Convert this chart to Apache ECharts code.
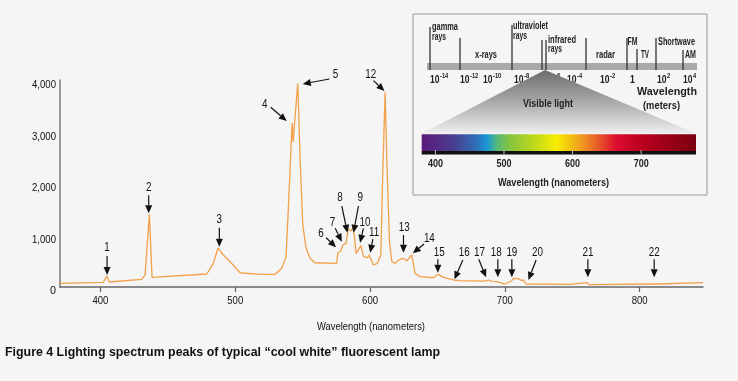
<!DOCTYPE html>
<html><head><meta charset="utf-8">
<script src="https://cdn.jsdelivr.net/npm/echarts@6/dist/echarts.min.js"></script>
<style>html,body{margin:0;padding:0;background:#f5f5f5}#c{width:738px;height:381px}</style>
</head><body><div id="c"></div>
<script>
// ---------- data ----------
const wavelengths = [370, 402.1, 404.7, 406.6, 430.6, 433.1, 436.3, 438.3, 478.9, 483.8, 487.3, 490.0, 496.2, 503.6, 518.4, 529.6, 534.5, 537.7, 539.4, 542.2, 542.9, 546.4, 548.1, 550.1, 552.6, 555.5, 559.2, 575.3, 576.1, 578.3, 579.8, 582.2, 583.7, 585.7, 587.7, 589.7, 593.2, 595.1, 598.1, 599.3, 602.5, 605.5, 608.0, 609.4, 611.2, 612.4, 614.4, 616.2, 618.6, 621.1, 624.3, 627.3, 631.0, 633.4, 637.2, 647.0, 650.7, 654.5, 661.9, 663.1, 666.8, 685.4, 687.8, 690.4, 694.1, 700.2, 705.2, 706.4, 710.1, 711.9, 713.8, 715.8, 748.5, 760.9, 762.8, 810.3, 811.6, 813.3, 847];
const intensities = [149, 169, 291, 175, 227, 311, 1489, 266, 330, 543, 840, 732, 569, 355, 324, 324, 440, 666, 1612, 3262, 2893, 4033, 2577, 1282, 829, 635, 549, 538, 743, 777, 893, 926, 1204, 1171, 1229, 732, 880, 666, 646, 699, 505, 538, 699, 2252, 3858, 2577, 957, 569, 538, 602, 635, 588, 699, 343, 278, 258, 324, 266, 214, 238, 200, 194, 214, 188, 181, 136, 200, 246, 238, 208, 214, 136, 130, 161, 123, 136, 161, 136, 161];
const xTickValues = [400, 500, 600, 700, 800];
const yTickValues = [0, 1000, 2000, 3000, 4000];

const peakLabels = ['1','2','3','4','5','6','7','8','9','10','11','12','13','14','15','16','17','18','19','20','21','22'];
const peakTipWavelength = [404.9, 435.8, 488.2, 538.2, 550.1, 574.8, 579.1, 583.2, 587.7, 592.6, 600.1, 610.7, 624.8, 631.7, 650.3, 662.6, 686.1, 694.8, 705.2, 717.5, 761.6, 810.8];
const peakTipIntensity = [311, 1509, 860, 3301, 4020, 848, 957, 1132, 1132, 938, 743, 3884, 743, 732, 355, 227, 266, 266, 266, 214, 266, 266];

// inset texts
const emBandLabels = [['gamma','rays'], ['x-rays'], ['ultraviolet','rays'], ['infrared','rays'], ['radar'], ['FM'], ['TV'], ['Shortwave'], ['AM']];
const emExponents = ['-14','-12','-10','-8','-6','-4','-2','','2','4'];
const visibleTicks = [400, 500, 600, 700];
const visibleRange = [380, 780];

// ---------- layout / style (pixels) ----------
const FONT = "'Liberation Sans', Arial, sans-serif";
const COND = 0.82;
const arrowLayout = [
 [0,-19,0,-8],[0,-18,0,-8],[0,-19,0,-8],[-16,-13.7,-6,-3],[26.6,-5,6,-4],
 [-10,-9.6,-5,-4.5],[-6.7,-13.4,-2.7,-5.5],[-5.6,-26.7,-1.7,-8],[5,-26.7,1.7,-8],[3.3,-14.4,1.7,-6],
 [2.7,-13.7,1.3,-6],[-11,-10.3,-2.7,-6],[0,-17.7,0.7,-7],[11.3,-9.3,5.3,-5],[0,-13.4,1.3,-7],
 [8.4,-19.3,1.3,-7.5],[-7.3,-18,0.6,-7],[0,-18,-1.7,-7],[0,-18,0,-7],[7.7,-20,1.3,-7.5],
 [0,-18,0,-7],[0,-18,0,-7]
];
const bandLabelPos = [[432,27,37],[475,55],[513,26,36],[548,40,49],[596,55],[627.5,42],[641,55],[658,42],[685,55]];
const bandLabelW = [[26,14],[22],[35,14],[28,14],[19],[10],[8],[37],[11]];
const dividerLines = [[430,27],[460,38],[512,25],[542,40],[546,40],[586,38],[627,38],[637,49],[656,38],[683,50]];
const exponentX = [430,460,483,514,545,567,600,630,657,683];

const mctx = document.createElement('canvas').getContext('2d');
function T(x, y, text, size, bold, align, targetW, z, fill) {
  const font = (bold ? 'bold ' : '') + size + 'px ' + FONT;
  mctx.font = font;
  const natural = mctx.measureText(text).width || 1;
  const sx = targetW ? targetW / natural : COND;
  return {type:'text', x:x, y:y, z:z || 10, scaleX:sx,
    style:{text:text, font:font, fill:fill || '#111', align:align || 'left', verticalAlign:'middle'}};
}

const chart = echarts.init(document.getElementById('c'), null, {renderer:'canvas'});
chart.setOption({
  backgroundColor: '#f5f5f5',
  animation: false,
  grid: {left: 60, right: 35, top: 80, bottom: 94},
  xAxis: {
    type: 'value', min: 370, max: 847,
    axisLine: {show: true, lineStyle: {color: '#666', width: 1.5}},
    axisTick: {show: true, length: 5, lineStyle: {color: '#666', width: 1.2}, customValues: xTickValues},
    axisLabel: {show: false},
    splitLine: {show: false}
  },
  yAxis: {
    type: 'value', min: 78, max: 4097,
    axisLine: {show: true, lineStyle: {color: '#777', width: 1.5}},
    axisTick: {show: false},
    axisLabel: {show: false},
    splitLine: {show: false}
  },
  series: [{
    type: 'line', symbol: 'none', clip: true,
    data: wavelengths.map((w, i) => [w, intensities[i]]),
    lineStyle: {color: '#f3a04a', width: 1.3}
  }]
});

const g = [];
// tick labels through the axes' scales
xTickValues.forEach(v => {
  const p = chart.convertToPixel({gridIndex: 0}, [v, 78]);
  g.push(T(p[0], p[1] + 14, String(v), 11, false, 'center', 16));
});
yTickValues.forEach(v => {
  const p = chart.convertToPixel({gridIndex: 0}, [370, v]);
  const s = v.toLocaleString('en-US');
  g.push(T(p[0] - 4, p[1], s, 11, false, 'right', s.length === 1 ? 6 : 24));
});
g.push(T(371, 327, 'Wavelength (nanometers)', 11, false, 'center', 108));
g.push(T(5, 352, 'Figure 4 Lighting spectrum peaks of typical \u201ccool white\u201d fluorescent lamp', 13, true, 'left', 435));

// peak annotations
peakLabels.forEach((lab, i) => {
  const tip = chart.convertToPixel({gridIndex: 0}, [peakTipWavelength[i], peakTipIntensity[i]]);
  const [dx, dy, lx, ly] = arrowLayout[i];
  const tail = [tip[0] + dx, tip[1] + dy];
  const len = Math.hypot(dx, dy);
  const ux = dx / len, uy = dy / len;
  const headLen = 8, hw = 3.5;
  const base = [tip[0] + ux * headLen, tip[1] + uy * headLen];
  g.push({type:'line', z:10, shape:{x1:tail[0], y1:tail[1], x2:base[0], y2:base[1]}, style:{stroke:'#111', lineWidth:1.2}});
  g.push({type:'polygon', z:10, shape:{points:[tip, [base[0] - uy*hw, base[1] + ux*hw], [base[0] + uy*hw, base[1] - ux*hw]]}, style:{fill:'#111'}});
  g.push(T(tail[0] + lx, tail[1] + ly, lab, 12, false, 'center', null, 10));
});

// inset
g.push({type:'rect', z:20, shape:{x:413, y:14, width:294, height:181}, style:{fill:'#f5f5f5', stroke:'#999', lineWidth:1}});
g.push({type:'rect', z:21, shape:{x:427, y:63, width:270, height:7}, style:{fill:'#a9a9a9'}});
dividerLines.forEach(d => g.push({type:'line', z:22, shape:{x1:d[0], y1:d[1], x2:d[0], y2:70}, style:{stroke:'#333', lineWidth:1.3}}));
emBandLabels.forEach((lines, i) => {
  const p = bandLabelPos[i];
  lines.forEach((t, k) => g.push(T(p[0], p[1 + k], t, 10, true, 'left', bandLabelW[i][k], 22, '#222')));
});
emExponents.forEach((e, i) => {
  const x = exponentX[i];
  if (e === '') {
    g.push(T(x, 80, '1', 10.5, true, 'left', null, 22, '#222'));
  } else {
    g.push(T(x, 80, '10', 10.5, true, 'left', 9.5, 22, '#222'));
    g.push(T(x + 10, 76.5, e, 7, true, 'left', null, 22, '#222'));
  }
});
g.push({type:'polygon', z:23, shape:{points:[[545,70],[421.7,133.5],[696,133.5]]},
  style:{fill: new echarts.graphic.LinearGradient(0,0,0,1,[{offset:0,color:'#6c6c6c'},{offset:0.45,color:'#a2a2a2'},{offset:1,color:'#efefef'}])}});
g.push(T(548, 104, 'Visible light', 10.5, true, 'center', 50, 24, '#222'));
g.push(T(667, 92, 'Wavelength', 11, true, 'center', 60, 24, '#222'));
g.push(T(661.5, 106, '(meters)', 11, true, 'center', 37, 24, '#222'));
const barX = 421.7, barW = 274.3;
g.push({type:'rect', z:24, shape:{x:barX, y:134.3, width:barW, height:16.8},
  style:{fill: new echarts.graphic.LinearGradient(0,0,1,0,[
    {offset:0,color:'#5c1a7a'},{offset:0.115,color:'#4a3c8f'},{offset:0.2,color:'#3070b8'},{offset:0.237,color:'#1796d6'},
    {offset:0.273,color:'#55b87c'},{offset:0.322,color:'#86c33e'},{offset:0.407,color:'#bcd81c'},{offset:0.492,color:'#f7ee00'},
    {offset:0.577,color:'#f0a01e'},{offset:0.638,color:'#e8602a'},{offset:0.711,color:'#dc0c30'},{offset:0.808,color:'#b8001f'},{offset:1,color:'#7a0010'}])}});
g.push({type:'rect', z:24, shape:{x:barX, y:151, width:barW, height:3.4}, style:{fill:'#111'}});
visibleTicks.forEach(nm => {
  const x = barX + (nm - visibleRange[0]) / (visibleRange[1] - visibleRange[0]) * barW;
  g.push({type:'line', z:25, shape:{x1:x, y1:150, x2:x, y2:154.4}, style:{stroke:'#bbb', lineWidth:1}});
  g.push(T(x, 164, String(nm), 10, true, 'center', 15, 25, '#222'));
});
g.push(T(553.5, 183, 'Wavelength (nanometers)', 10.5, true, 'center', 111, 25, '#222'));

chart.setOption({graphic: g});
</script></body></html>
